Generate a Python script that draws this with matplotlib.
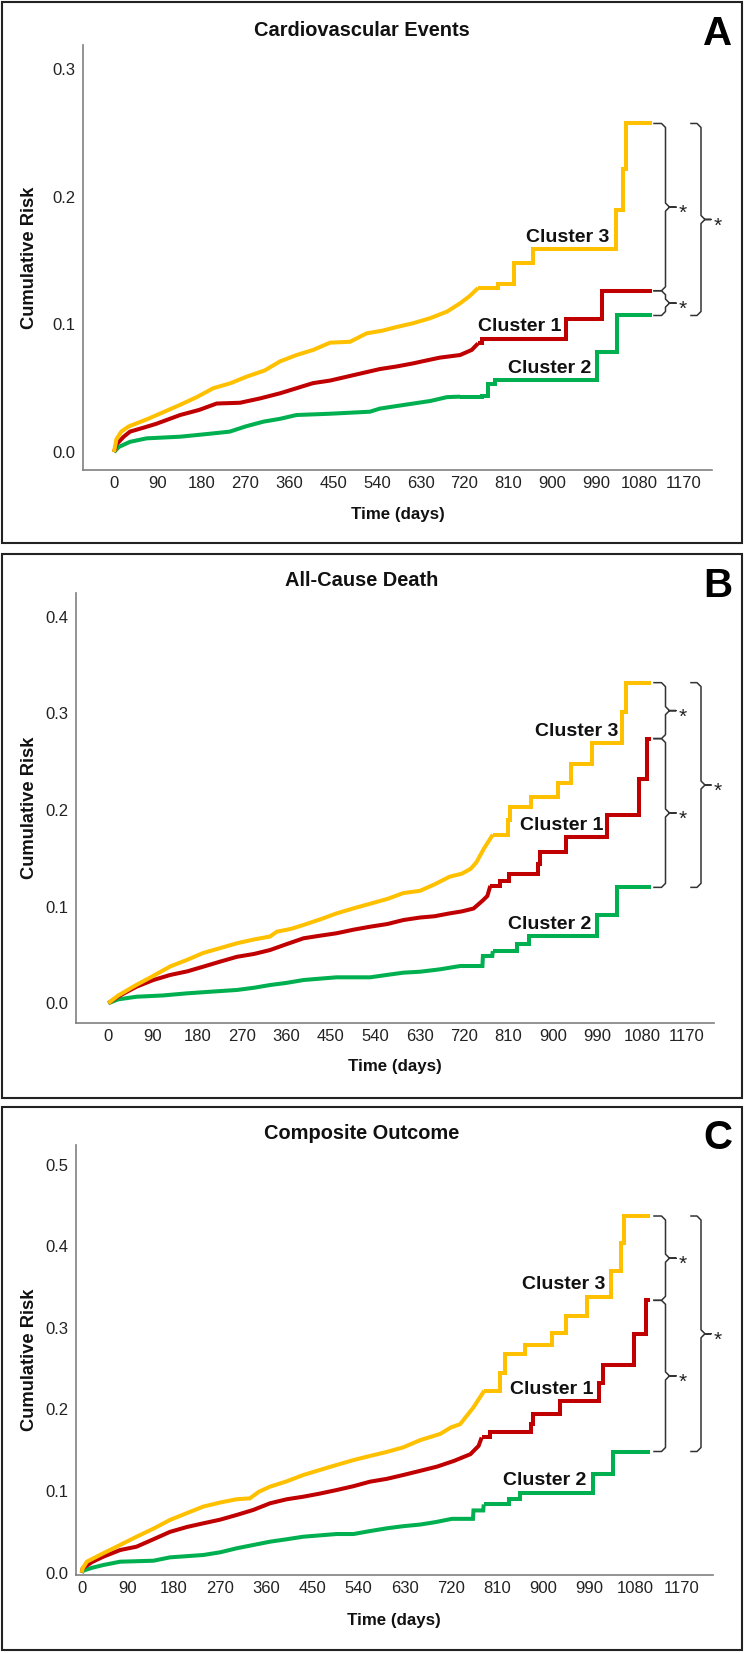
import matplotlib.pyplot as plt
from matplotlib.patches import Rectangle
from matplotlib.transforms import blended_transform_factory

plt.rcParams['font.family'] = ['Liberation Sans', 'DejaVu Sans']

# ---- data ----
clusters = ['Cluster 1', 'Cluster 2', 'Cluster 3']
colors = {'Cluster 1': '#C00000', 'Cluster 2': '#00B050', 'Cluster 3': '#FFC000'}
x_ticks = list(range(0, 1171, 90))

# A: cardiovascular events
cv_days_c3 = [0, 5, 15, 30, 50, 70, 100, 136, 170, 204, 240, 272, 310, 341, 375, 409, 444, 485, 519, 550,
              581, 615, 649, 684, 711, 730, 748, 788, 822, 861, 1031, 1046, 1053, 1105]
cv_risk_c3 = [0, 0.010, 0.016, 0.020, 0.023, 0.026, 0.031, 0.037, 0.043, 0.050, 0.054, 0.059, 0.064, 0.071,
              0.076, 0.080, 0.0857, 0.0864, 0.093, 0.095, 0.098, 0.101, 0.1048, 0.110, 0.1165, 0.122, 0.1285,
              0.132, 0.148, 0.1588, 0.1897, 0.222, 0.2575, 0.2575]
cv_days_c1 = [0, 5, 20, 33, 60, 86, 136, 175, 211, 259, 300, 341, 375, 409, 444, 478, 512, 546, 580, 615,
              645, 670, 711, 735, 748, 756, 928, 1002, 1105]
cv_risk_c1 = [0, 0.006, 0.012, 0.016, 0.019, 0.022, 0.029, 0.033, 0.038, 0.0386, 0.042, 0.046, 0.050, 0.054,
              0.056, 0.059, 0.062, 0.065, 0.067, 0.0695, 0.072, 0.074, 0.076, 0.080, 0.0851, 0.0886, 0.1042,
              0.1264, 0.1264]
cv_days_c2 = [0, 10, 33, 67, 136, 204, 238, 270, 307, 341, 375, 444, 526, 546, 580, 615, 650, 684, 711, 756,
              768, 783, 992, 1033, 1105]
cv_risk_c2 = [0, 0.004, 0.008, 0.0107, 0.012, 0.0146, 0.016, 0.020, 0.0238, 0.026, 0.029, 0.030, 0.0316,
              0.034, 0.036, 0.038, 0.040, 0.043, 0.0434, 0.0439, 0.053, 0.0564, 0.0786, 0.107, 0.107]

# B: all-cause death
death_days_c3 = [0, 20, 57, 90, 125, 160, 192, 226, 260, 295, 327, 341, 370, 395, 430, 462, 495, 530, 565,
                 597, 631, 660, 691, 715, 733, 745, 760, 778, 808, 813, 855, 910, 937, 979, 1040, 1047, 1099]
death_risk_c3 = [0, 0.008, 0.019, 0.028, 0.038, 0.045, 0.052, 0.057, 0.062, 0.066, 0.069, 0.074, 0.077,
                 0.081, 0.087, 0.093, 0.098, 0.103, 0.108, 0.114, 0.1164, 0.123, 0.131, 0.134, 0.139, 0.146,
                 0.160, 0.1745, 0.190, 0.2029, 0.2134, 0.228, 0.2473, 0.2694, 0.3017, 0.3318, 0.3318]
death_days_c1 = [0, 20, 57, 91, 125, 160, 192, 226, 260, 295, 327, 360, 395, 430, 462, 495, 530, 565, 597,
                 631, 660, 691, 715, 739, 757, 767, 773, 792, 810, 869, 874, 927, 1010, 1074, 1091, 1099]
death_risk_c1 = [0, 0.007, 0.0171, 0.024, 0.0292, 0.033, 0.0378, 0.043, 0.048, 0.051, 0.055, 0.061, 0.0672,
                 0.070, 0.0724, 0.076, 0.0792, 0.082, 0.0861, 0.0887, 0.090, 0.093, 0.095, 0.098, 0.106,
                 0.111, 0.1215, 0.1268, 0.1337, 0.144, 0.1562, 0.1717, 0.1943, 0.2324, 0.2739, 0.2739]
death_days_c2 = [0, 20, 57, 110, 159, 210, 260, 295, 327, 360, 395, 430, 462, 530, 560, 597, 631, 670, 712,
                 757, 758, 777, 778, 827, 851, 988, 1029, 1099]
death_risk_c2 = [0, 0.004, 0.0067, 0.008, 0.0102, 0.012, 0.0137, 0.016, 0.0188, 0.021, 0.024, 0.0255,
                 0.0268, 0.0268, 0.029, 0.0316, 0.0326, 0.035, 0.0385, 0.0385, 0.0489, 0.0489, 0.054, 0.061,
                 0.0697, 0.0914, 0.1199, 0.1199]

# C: composite outcome
comp_days_c3 = [0, 2, 10, 42, 75, 107, 140, 172, 205, 237, 270, 302, 328, 345, 367, 400, 432, 465, 497,
                530, 562, 595, 627, 660, 699, 720, 738, 764, 785, 816, 826, 865, 917, 945, 985, 1033, 1051,
                1058, 1108]
comp_risk_c3 = [0, 0.0054, 0.0135, 0.0238, 0.034, 0.0441, 0.054, 0.0646, 0.073, 0.081, 0.086, 0.090,
                0.0911, 0.099, 0.1054, 0.112, 0.1197, 0.126, 0.132, 0.138, 0.143, 0.148, 0.1536, 0.1624,
                0.170, 0.178, 0.182, 0.2026, 0.223, 0.245, 0.2681, 0.2784, 0.2936, 0.3141, 0.3379, 0.3694,
                0.4034, 0.437, 0.437]
comp_days_c1 = [0, 2, 20, 42, 75, 107, 140, 172, 205, 237, 270, 302, 335, 367, 400, 432, 465, 497, 530,
                562, 595, 627, 660, 693, 726, 758, 774, 780, 797, 876, 881, 932, 1008, 1017, 1077, 1100, 1108]
comp_risk_c1 = [0, 0.0054, 0.013, 0.0196, 0.0278, 0.0319, 0.041, 0.050, 0.056, 0.0605, 0.065, 0.0707,
                0.077, 0.085, 0.090, 0.0931, 0.097, 0.1013, 0.106, 0.1115, 0.115, 0.1197, 0.1248, 0.130,
                0.137, 0.1452, 0.1554, 0.1657, 0.1718, 0.182, 0.1944, 0.21, 0.232, 0.255, 0.2919, 0.3337,
                0.3337]
comp_days_c2 = [0, 3, 20, 42, 75, 140, 172, 237, 270, 302, 335, 367, 400, 432, 497, 530, 562, 595, 627,
                660, 690, 722, 763, 764, 783, 784, 834, 855, 997, 1037, 1108]
comp_risk_c2 = [0, 0.0025, 0.006, 0.0094, 0.0135, 0.0147, 0.0188, 0.0217, 0.025, 0.0299, 0.034, 0.038,
                0.041, 0.0441, 0.0474, 0.0474, 0.051, 0.0544, 0.057, 0.059, 0.062, 0.066, 0.066, 0.0763,
                0.0763, 0.0837, 0.0898, 0.098, 0.1206, 0.1485, 0.1485]

W, H = 744, 1653
fig = plt.figure(figsize=(W / 100, H / 100), dpi=100)


def fx(px):
    return px / W


def fy(py):
    return 1 - py / H


# dense_until: before this day the many small events read as a smooth line, after it as steps
panels = [
    dict(title='Cardiovascular Events', letter='A', box=(2, 2, 742, 543), axbox=(83, 45, 712, 470),
         xlim=(-63.7, 1228.7), ylim=(-0.0141, 0.319), yticks=[0, 0.1, 0.2, 0.3],
         title_y=30, letter_y=34, xlabel_y=515, dense_until=748,
         curves={'Cluster 1': (cv_days_c1, cv_risk_c1), 'Cluster 2': (cv_days_c2, cv_risk_c2),
                 'Cluster 3': (cv_days_c3, cv_risk_c3)},
         labels={'Cluster 3': (933, 0.168), 'Cluster 1': (834, 0.0982), 'Cluster 2': (896, 0.0658)}),
    dict(title='All-Cause Death', letter='B', box=(2, 554, 742, 1098), axbox=(76, 593, 713.6, 1023.3),
         xlim=(-65.4, 1224.8), ylim=(-0.0208, 0.4246), yticks=[0, 0.1, 0.2, 0.3, 0.4],
         title_y=580, letter_y=586, xlabel_y=1067, dense_until=780,
         curves={'Cluster 1': (death_days_c1, death_risk_c1), 'Cluster 2': (death_days_c2, death_risk_c2),
                 'Cluster 3': (death_days_c3, death_risk_c3)},
         labels={'Cluster 3': (947, 0.2816), 'Cluster 1': (918, 0.184), 'Cluster 2': (893, 0.0818)}),
    dict(title='Composite Outcome', letter='C', box=(2, 1107, 742, 1650), axbox=(76, 1145, 712.6, 1575),
         xlim=(-11.1, 1230.3), ylim=(-0.0028, 0.524), yticks=[0, 0.1, 0.2, 0.3, 0.4, 0.5],
         title_y=1133.5, letter_y=1138, xlabel_y=1620, dense_until=785,
         curves={'Cluster 1': (comp_days_c1, comp_risk_c1), 'Cluster 2': (comp_days_c2, comp_risk_c2),
                 'Cluster 3': (comp_days_c3, comp_risk_c3)},
         labels={'Cluster 3': (940, 0.353), 'Cluster 1': (917, 0.224), 'Cluster 2': (903, 0.1132)}),
]


def brace(ax, ppu, x_hook, x_vert, x_tip, x_star, y_top, y_bot):
    trans = blended_transform_factory(fig.transFigure, ax.transData)
    r = 4 / ppu
    ym = (y_top + y_bot) / 2
    pts = [(x_hook, y_top), (x_vert - 4, y_top), (x_vert, y_top - r), (x_vert, ym + r), (x_vert + 4, ym),
           (x_tip, ym), (x_vert + 4, ym), (x_vert, ym - r), (x_vert, y_bot + r), (x_vert - 4, y_bot),
           (x_hook, y_bot)]
    ax.plot([fx(p[0]) for p in pts], [p[1] for p in pts], color='#333333', lw=1.1,
            transform=trans, clip_on=False, solid_joinstyle='round')
    ax.text(fx(x_star), ym - 12 / ppu, '*', transform=trans, ha='center', va='baseline',
            fontsize=15, color='#222222', clip_on=False)


for p in panels:
    x0, y0, x1, y1 = p['box']
    fig.patches.append(Rectangle((fx(x0), fy(y1)), fx(x1 - x0), (y1 - y0) / H, transform=fig.transFigure,
                                 fill=False, edgecolor='#222222', linewidth=1.5))
    l, t, r, b = p['axbox']
    ax = fig.add_axes([fx(l), fy(b), fx(r - l), (b - t) / H])
    for name in ['Cluster 2', 'Cluster 1', 'Cluster 3']:
        d, v = p['curves'][name]
        k = max(i for i, day in enumerate(d) if day <= p['dense_until'])
        style = dict(color=colors[name], lw=2.9, solid_joinstyle='miter', solid_capstyle='butt')
        ax.plot(d[:k + 1], v[:k + 1], **style)
        ax.plot(d[k:], v[k:], drawstyle='steps-post', **style)
    ax.set_xlim(p['xlim'])
    ax.set_ylim(p['ylim'])
    ax.set_xticks(x_ticks)
    ax.set_xticklabels([str(x) for x in x_ticks])
    ax.set_yticks(p['yticks'])
    ax.set_yticklabels(['%.1f' % y for y in p['yticks']])
    ax.tick_params(axis='both', length=0, labelsize=12, colors='#222222')
    ax.tick_params(axis='x', pad=4.3)
    ax.tick_params(axis='y', pad=5.2)
    for s in ['top', 'right']:
        ax.spines[s].set_visible(False)
    for s in ['left', 'bottom']:
        ax.spines[s].set_color('#808080')
        ax.spines[s].set_linewidth(1.2)

    for name, (lx, ly) in p['labels'].items():
        ax.text(lx, ly, name, ha='center', va='center', fontsize=14, fontweight='bold', color='#111111')

    # significance braces between end values
    ends = {name: p['curves'][name][1][-1] for name in clusters}
    ppu = (b - t) / (p['ylim'][1] - p['ylim'][0])
    brace(ax, ppu, 654, 665.5, 676, 683, ends['Cluster 3'], ends['Cluster 1'])
    brace(ax, ppu, 654, 665.5, 676, 683, ends['Cluster 1'], ends['Cluster 2'])
    brace(ax, ppu, 691, 701, 711, 717.5, ends['Cluster 3'], ends['Cluster 2'])

    fig.text(fx(362), fy(p['title_y']), p['title'], ha='center', va='center', fontsize=14.4,
             fontweight='bold', color='#111111')
    fig.text(fx(718), fy(p['letter_y']), p['letter'], ha='center', va='center', fontsize=29,
             fontweight='bold', color='#000000')
    fig.text(fx((l + r) / 2), fy(p['xlabel_y']), 'Time (days)', ha='center', va='center', fontsize=12.2,
             fontweight='bold', color='#111111')
    fig.text(fx(30), fy((t + b) / 2), 'Cumulative Risk', ha='center', va='center', rotation=90,
             fontsize=13.2, fontweight='bold', color='#111111')

fig.savefig('out.png', dpi=100)
